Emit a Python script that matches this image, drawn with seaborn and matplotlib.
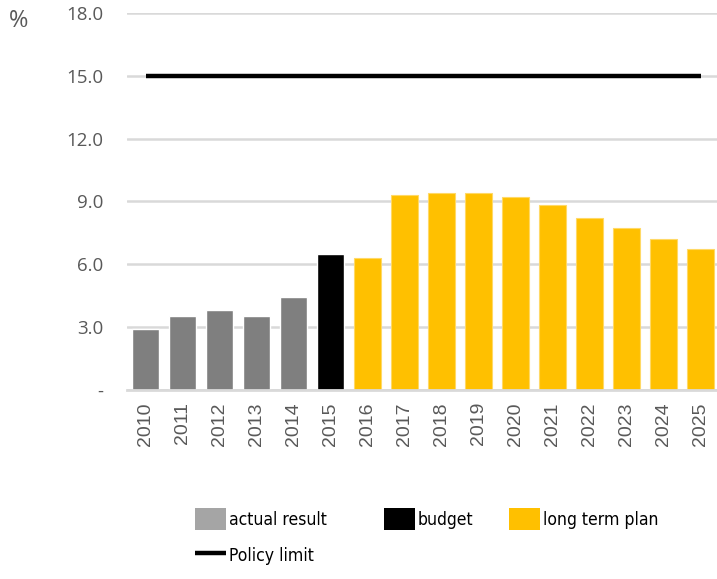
import matplotlib
matplotlib.use("Agg")
import matplotlib.pyplot as plt
from matplotlib import font_manager
from matplotlib.font_manager import FontProperties
from matplotlib.patches import Patch
from matplotlib.lines import Line2D
import numpy as np
import pandas as pd
import seaborn as sns

# ---- data ----
years = [str(y) for y in range(2010, 2026)]
values = [2.9, 3.5, 3.8, 3.5, 4.4, 6.5, 6.3, 9.3, 9.4, 9.4, 9.2, 8.8, 8.2, 7.7, 7.2, 6.7]
kinds = ["actual result"] * 5 + ["budget"] + ["long term plan"] * 10
policy_limit = 15.0
y_ticks = [0, 3, 6, 9, 12, 15, 18]
y_tick_labels = ["-", "3.0", "6.0", "9.0", "12.0", "15.0", "18.0"]

bar_colors = {"actual result": "#7F7F7F", "budget": "#000000", "long term plan": "#FFC000"}
legend_colors = {"actual result": "#A5A5A5", "budget": "#000000", "long term plan": "#FFC000"}
text_gray = "#595959"
grid_gray = "#D9D9D9"

# pick a narrow face for the legend text if one is installed
fonts = font_manager.fontManager.ttflist
names = {f.name for f in fonts}
if "Liberation Sans Narrow" in names:
    legend_prop = FontProperties(family="Liberation Sans Narrow", size=14.5)
elif any(f.name == "DejaVu Sans" and f.stretch == "condensed" for f in fonts):
    legend_prop = FontProperties(family="DejaVu Sans", stretch="condensed", size=12.6)
else:
    legend_prop = FontProperties(family="Liberation Sans", size=13)

df = pd.DataFrame({"year": years, "value": values, "kind": kinds})

sns.set_theme(style="white")
plt.rcParams["font.family"] = ["Open Sans", "DejaVu Sans"]

fig = plt.figure(figsize=(7.17, 5.79), dpi=100)
ax = fig.add_axes([127 / 717, 189.5 / 579, 592 / 717, 376.5 / 579])

sns.barplot(data=df, x="year", y="value", hue="kind", palette=bar_colors,
            dodge=False, width=0.73, legend=False, ax=ax, saturation=1)
# light rim on the plan bars
for bar in ax.patches:
    fc = bar.get_facecolor()
    if abs(fc[0] - 1.0) < 0.01 and abs(fc[2]) < 0.01:
        bar.set_edgecolor("#FFD966")
        bar.set_linewidth(0.8)

ax.plot([0, len(years) - 1], [policy_limit, policy_limit], color="black", lw=3.2,
        solid_capstyle="butt", zorder=3)

ax.set_ylim(0, 18)
ax.set_xlim(-0.5, len(years) - 0.5)
ax.set_yticks(y_ticks)
ax.set_yticklabels(y_tick_labels)
ax.yaxis.grid(True, color=grid_gray, lw=1.8)
ax.set_axisbelow(True)
ax.set_xlabel("")
ax.set_ylabel("")
for side in ["left", "right", "top"]:
    ax.spines[side].set_visible(False)
ax.spines["bottom"].set_color(grid_gray)
ax.spines["bottom"].set_linewidth(2)
ax.tick_params(axis="both", length=0)
ax.tick_params(axis="y", pad=17, labelsize=13.5, labelcolor=text_gray)
ax.tick_params(axis="x", pad=9, labelsize=14, labelcolor=text_gray)
for lbl in ax.get_xticklabels():
    lbl.set_rotation(90)
    lbl.set_fontfamily("Liberation Sans")
for lbl in ax.get_yticklabels():
    lbl.set_fontfamily("Open Sans")

fig.text(19 / 717, 1 - 21 / 579, "%", fontsize=17, color=text_gray,
         ha="center", va="center", family="Open Sans")

# ---- legend, laid out in three columns ----
leg_kw = dict(frameon=False, handlelength=1.75, handleheight=1.6,
              handletextpad=0.2, labelspacing=0.8, borderpad=0, borderaxespad=0,
              loc="upper left", prop=legend_prop)

h_actual = Patch(facecolor=legend_colors["actual result"], edgecolor="none")
h_policy = Line2D([], [], color="black", lw=3.2, solid_capstyle="butt")
h_budget = Patch(facecolor=legend_colors["budget"], edgecolor="none")
h_plan = Patch(facecolor=legend_colors["long term plan"], edgecolor="none")

top_y = 1 - 508 / 579
l1 = fig.legend([h_actual, h_policy], ["actual result", "Policy limit"],
                bbox_to_anchor=(195 / 717, top_y), **leg_kw)
l2 = fig.legend([h_budget], ["budget"], bbox_to_anchor=(384 / 717, top_y), **leg_kw)
l3 = fig.legend([h_plan], ["long term plan"], bbox_to_anchor=(509 / 717, top_y), **leg_kw)
for lg in (l1, l2, l3):
    for t in lg.get_texts():
        t.set_color("black")

fig.savefig("out.png", dpi=100)
